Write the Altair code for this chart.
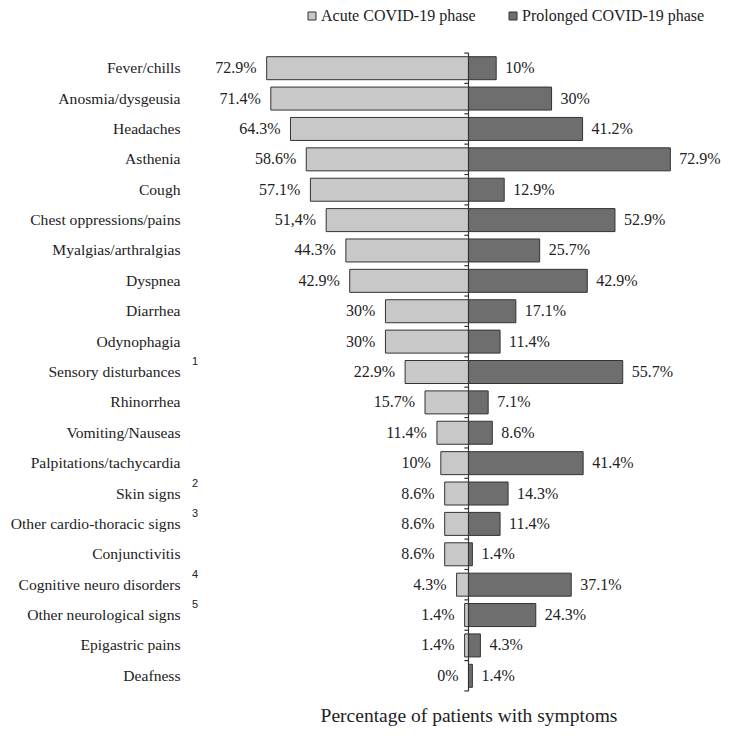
import altair as alt
import pandas as pd

categories = ["Fever/chills", "Anosmia/dysgeusia", "Headaches", "Asthenia", "Cough",
              "Chest oppressions/pains", "Myalgias/arthralgias", "Dyspnea", "Diarrhea",
              "Odynophagia", "Sensory disturbances", "Rhinorrhea", "Vomiting/Nauseas",
              "Palpitations/tachycardia", "Skin signs", "Other cardio-thoracic signs",
              "Conjunctivitis", "Cognitive neuro disorders", "Other neurological signs",
              "Epigastric pains", "Deafness"]
acute = [72.9, 71.4, 64.3, 58.6, 57.1, 51.4, 44.3, 42.9, 30, 30, 22.9, 15.7, 11.4, 10,
         8.6, 8.6, 8.6, 4.3, 1.4, 1.4, 0]
prolonged = [10, 30, 41.2, 72.9, 12.9, 52.9, 25.7, 42.9, 17.1, 11.4, 55.7, 7.1, 8.6, 41.4,
             14.3, 11.4, 1.4, 37.1, 24.3, 4.3, 1.4]
acute_labels = ["72.9%", "71.4%", "64.3%", "58.6%", "57.1%", "51,4%", "44.3%", "42.9%",
                "30%", "30%", "22.9%", "15.7%", "11.4%", "10%", "8.6%", "8.6%", "8.6%",
                "4.3%", "1.4%", "1.4%", "0%"]
prolonged_labels = ["10%", "30%", "41.2%", "72.9%", "12.9%", "52.9%", "25.7%", "42.9%",
                    "17.1%", "11.4%", "55.7%", "7.1%", "8.6%", "41.4%", "14.3%", "11.4%",
                    "1.4%", "37.1%", "24.3%", "4.3%", "1.4%"]
series = ["Acute COVID-19 phase", "Prolonged COVID-19 phase"]
colors = ["#c8c8c8", "#6e6e6e"]
note_cats = ["Sensory disturbances", "Skin signs", "Other cardio-thoracic signs",
             "Cognitive neuro disorders", "Other neurological signs"]
note_marks = ["1", "2", "3", "4", "5"]

rows = []
for c, a, p, la, lp in zip(categories, acute, prolonged, acute_labels, prolonged_labels):
    rows.append({"cat": c, "series": series[0], "value": -a, "label": la})
    rows.append({"cat": c, "series": series[1], "value": p, "label": lp})
df = pd.DataFrame(rows)
df_acute = df[df.series == series[0]]
df_prol = df[df.series == series[1]]
df_cats = pd.DataFrame({"cat": categories})
df_last = pd.DataFrame({"cat": [categories[-1]]})
df_notes = pd.DataFrame({"cat": note_cats, "mark": note_marks})

FONT = "Liberation Serif"
yscale = alt.Scale(domain=categories, paddingInner=0, paddingOuter=0)
yaxis = alt.Axis(title=None, domain=False, ticks=False, labelFont=FONT, labelFontSize=15.6,
                 labelColor="#222", labelPadding=67, labelLimit=300)
xscale = alt.Scale(domain=[-80, 80], nice=False, zero=False)
xaxis = alt.Axis(title="Percentage of patients with symptoms", labels=False, ticks=False,
                 domain=False, grid=False, titleFont=FONT, titleFontSize=19.5,
                 titleFontWeight="normal", titleColor="#222", titlePadding=15)

bars = alt.Chart(df).mark_bar(size=23, stroke="#333", strokeWidth=1).encode(
    y=alt.Y("cat:N", scale=yscale, axis=yaxis, sort=categories),
    x=alt.X("value:Q", scale=xscale, axis=xaxis),
    x2=alt.X2(datum=0),
    color=alt.Color("series:N", scale=alt.Scale(domain=series, range=colors),
                    legend=alt.Legend(orient="none", legendX=57, legendY=-45,
                                      direction="horizontal", title=None,
                                      symbolType="square", symbolSize=64,
                                      symbolStrokeColor="#333", symbolStrokeWidth=1,
                                      labelFont=FONT, labelFontSize=16, labelColor="#222",
                                      columnPadding=29, labelOffset=1, labelLimit=400)),
)

txt_a = alt.Chart(df_acute).mark_text(align="right", baseline="middle", dx=-10,
                                      font=FONT, fontSize=16, color="#222").encode(
    y=alt.Y("cat:N", scale=yscale, axis=yaxis, sort=categories),
    x=alt.X("value:Q", scale=xscale, axis=xaxis),
    text="label:N",
)
txt_p = alt.Chart(df_prol).mark_text(align="left", baseline="middle", dx=9,
                                     font=FONT, fontSize=16, color="#222").encode(
    y=alt.Y("cat:N", scale=yscale, axis=yaxis, sort=categories),
    x=alt.X("value:Q", scale=xscale, axis=xaxis),
    text="label:N",
)

center = alt.Chart(pd.DataFrame({"v": [0]})).mark_rule(color="#333", strokeWidth=1.2).encode(
    x=alt.X("v:Q", scale=xscale, axis=xaxis),
)
ticks_top = alt.Chart(df_cats).mark_rule(color="#333", strokeWidth=1.2).encode(
    y=alt.Y("cat:N", scale=yscale, axis=yaxis, sort=categories, bandPosition=0),
    x=alt.X(datum=-1.5, scale=xscale, axis=xaxis),
    x2=alt.X2(datum=0),
)
ticks_bot = alt.Chart(df_last).mark_rule(color="#333", strokeWidth=1.2).encode(
    y=alt.Y("cat:N", scale=yscale, axis=yaxis, sort=categories, bandPosition=1),
    x=alt.X(datum=-1.5, scale=xscale, axis=xaxis),
    x2=alt.X2(datum=0),
)
notes = alt.Chart(df_notes).mark_text(align="center", baseline="middle", dx=-52, dy=-10,
                                      font="Liberation Sans", fontSize=11,
                                      color="#222").encode(
    y=alt.Y("cat:N", scale=yscale, axis=yaxis, sort=categories),
    x=alt.X(datum=-80, scale=xscale, axis=xaxis),
    text="mark:N",
)

chart = alt.layer(bars, txt_a, txt_p, center, ticks_top, ticks_bot, notes).properties(
    width=443, height=638,
    autosize=alt.AutoSizeParams(type="none"),
    padding={"left": 239, "top": 45, "right": 31, "bottom": 35},
    background="white",
).configure_view(stroke=None)

chart.save("out.html", embed_options={"renderer": "svg", "actions": False})
